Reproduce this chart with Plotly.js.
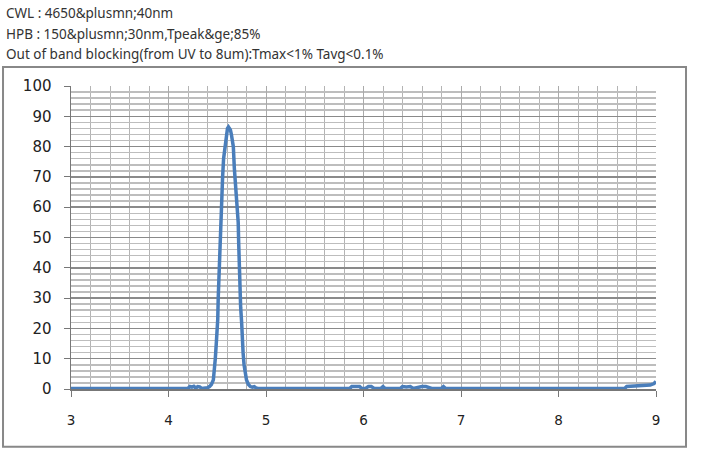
<!DOCTYPE html>
<html>
<head>
<meta charset="utf-8">
<script src="https://cdn.plot.ly/plotly-3.0.1.min.js"></script>
<style>
html,body{margin:0;padding:0;background:#fff;}
#chart{width:711px;height:461px;}
</style>
</head>
<body>
<div id="chart"></div>
<script>
// Header lines (shown literally, entities included)
const headerLines = [
  "CWL : 4650&plusmn;40nm",
  "HPB : 150&plusmn;30nm,Tpeak&ge;85%",
  "Out of band blocking(from UV to 8um):Tmax<1% Tavg<0.1%"
];

// Wavelength (um)
const wavelength = [
  3.00, 3.50, 4.00, 4.20, 4.22, 4.24, 4.26, 4.28, 4.30, 4.32, 4.34, 4.38,
  4.40, 4.42, 4.44, 4.46, 4.47, 4.48, 4.49, 4.50, 4.505, 4.51, 4.52, 4.525,
  4.535, 4.545, 4.555, 4.565, 4.575, 4.585, 4.595, 4.605, 4.615, 4.625,
  4.635, 4.645, 4.655, 4.665, 4.675, 4.685, 4.695, 4.705, 4.715, 4.72,
  4.725, 4.73, 4.74, 4.75, 4.755, 4.765, 4.775, 4.785, 4.80, 4.82, 4.84,
  4.86, 4.88, 4.90, 4.92, 5.00, 5.50, 5.86, 5.88, 5.92, 5.96, 5.98, 6.02,
  6.05, 6.08, 6.11, 6.18, 6.20, 6.22, 6.38, 6.40, 6.44, 6.48, 6.51, 6.57,
  6.60, 6.64, 6.68, 6.70, 6.80, 6.82, 6.84, 7.00, 8.00, 8.68, 8.70, 8.80,
  8.88, 8.94, 8.98, 9.00
];
// Transmission (%)
const transmission = [
  0.2, 0.2, 0.2, 0.2, 0.8, 0.6, 0.9, 0.3, 0.8, 0.7, 0.2, 0.2,
  0.4, 0.8, 1.5, 3.0, 6.0, 10, 15, 20, 23, 30, 40, 48,
  57, 64, 70, 76, 79, 82, 84, 86, 86.5, 86,
  85.5, 84, 82, 80, 73, 68, 63, 58, 55, 48,
  40, 33, 27, 22, 15, 12, 8, 5, 3, 1.5, 0.8,
  0.6, 0.8, 0.3, 0.2, 0.2, 0.2, 0.2, 0.8, 0.7, 0.8, 0.2, 0.2,
  0.8, 0.8, 0.2, 0.2, 0.8, 0.2, 0.2, 0.8, 0.7, 0.8, 0.2, 0.8,
  0.8, 0.8, 0.2, 0.2, 0.2, 0.8, 0.2, 0.2, 0.2, 0.2, 0.8, 0.9,
  1.0, 1.3, 1.8, 2.5
];

const xTicks = [3, 4, 5, 6, 7, 8, 9];
const yTicks = [0, 10, 20, 30, 40, 50, 60, 70, 80, 90, 100];

const trace = {
  x: wavelength,
  y: transmission,
  type: 'scatter',
  mode: 'lines',
  line: {color: '#4a7ebb', width: 3.5},
  hoverinfo: 'x+y'
};

const headerFont = {family: 'Noto Sans, DejaVu Sans, sans-serif', size: 13.5, color: '#333'};
const yTickFont = {family: 'DejaVu Sans, sans-serif', size: 15, color: '#222'};
const xTickFont = {family: 'DejaVu Sans, sans-serif', size: 13.5, color: '#222'};

function escapeText(t) {
  return t.replace(/&/g, '&amp;').replace(/</g, '&lt;');
}

const headerY = [1.241, 1.1716, 1.1056];
const annotations = headerLines.map((t, i) => ({
  text: escapeText(t),
  xref: 'paper', yref: 'paper',
  x: -0.1145, y: headerY[i],
  xanchor: 'left', yanchor: 'middle',
  showarrow: false,
  font: headerFont
}));

const layout = {
  width: 711, height: 461,
  margin: {l: 71, r: 55, t: 86, b: 72},
  paper_bgcolor: '#fff',
  plot_bgcolor: '#fff',
  showlegend: false,
  xaxis: {
    range: [3, 9],
    tickvals: xTicks,
    ticktext: xTicks.map(String),
    showgrid: true,
    gridcolor: '#aaa',
    gridwidth: 1,
    minor: {dtick: 0.2, showgrid: true, gridcolor: '#b4b4b4', gridwidth: 1, ticks: ''},
    zeroline: false,
    showline: true,
    linecolor: '#777',
    linewidth: 1.5,
    ticks: 'outside',
    ticklen: 6,
    tickcolor: '#777',
    ticklabelstandoff: 12,
    tickfont: xTickFont,
    fixedrange: true
  },
  yaxis: {
    range: [0, 100],
    tickvals: yTicks,
    ticktext: yTicks.map(String),
    showgrid: true,
    gridcolor: '#8a8a8a',
    gridwidth: 1.5,
    minor: {dtick: 2, showgrid: true, gridcolor: '#bdbdbd', gridwidth: 1.5, ticks: ''},
    zeroline: false,
    showline: true,
    linecolor: '#777',
    linewidth: 1.5,
    ticks: 'outside',
    ticklen: 6,
    tickcolor: '#777',
    ticklabelstandoff: 9,
    tickfont: yTickFont,
    fixedrange: true
  },
  annotations: annotations,
  shapes: [{
    type: 'rect', xref: 'paper', yref: 'paper',
    x0: -0.1162, x1: 1.0513, y0: -0.191, y1: 1.0627,
    line: {color: '#888', width: 2},
    fillcolor: 'rgba(0,0,0,0)',
    layer: 'below'
  }]
};

Plotly.newPlot('chart', [trace], layout, {displayModeBar: false, staticPlot: true});
</script>
</body>
</html>
